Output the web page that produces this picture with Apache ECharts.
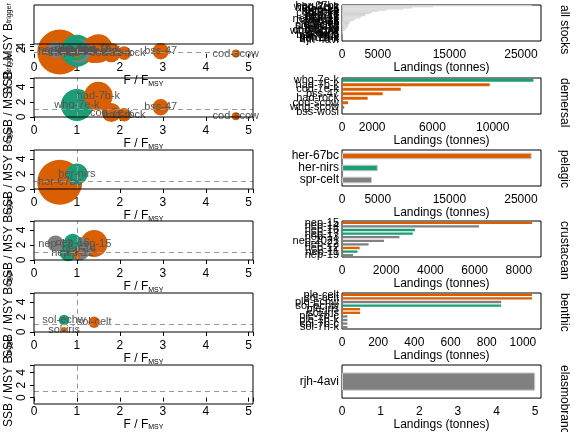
<!DOCTYPE html>
<html><head><meta charset="utf-8">
<script src="https://cdn.jsdelivr.net/npm/echarts@6/dist/echarts.min.js"></script>
<style>body{margin:0}#main{width:576px;height:432px}</style>
</head><body><div id="main"></div>
<script>
// stock data per guild: names, F/Fmsy, SSB/MSY Btrigger, landings (t), status colour
var guilds = ['demersal', 'pelagic', 'crustacean', 'benthic', 'elasmobranch'];

var demNames = ['whg-7e-k', 'had-7b-k', 'cod-7e-k', 'bss-47', 'had-rock', 'cod-scow', 'whg-scow', 'bss-wosi'];
var demF = [1.0, 1.5, 1.8, 2.95, 2.1, 4.7, null, null];
var demB = [1.6, 2.8, 0.6, 1.3, 0.3, 0.1, null, null];
var demL = [12700, 9800, 3900, 2700, 1700, 400, 150, 40];
var demC = ['g', 'o', 'o', 'o', 'o', 'o', 'x', 'x'];

var pelNames = ['her-67bc', 'her-nirs', 'spr-celt'];
var pelF = [0.6, 1.0, null];
var pelB = [0.9, 2.0, null];
var pelL = [26500, 5000, 4200];
var pelC = ['o', 'g', 'x'];

var cruNames = ['nep-15', 'nep-14', 'nep-16', 'nep-17', 'nep-13', 'nep-2021', 'nep-22', 'nep-12', 'nep-11', 'nep-19'];
var cruF = [1.4, 1.05, 0.9, 0.8, 0.5, null, null, 1.0, null, null];
var cruB = [2.2, 1.5, 2.3, 1.0, 2.2, null, null, 0.9, null, null];
var cruL = [8600, 6200, 3300, 3200, 2600, 1900, 1200, 800, 700, 500];
var cruC = ['o', 'x', 'g', 'g', 'x', 'x', 'x', 'o', 'g', 'x'];

var benNames = ['sol-celt', 'ple-celt', 'sol-echw', 'ple-echw', 'sol-iris', 'ple-iris', 'sol-7h-k', 'sol-7b-c', 'ple-7h-k', 'ple-7b-c'];
var benF = [1.4, null, 0.7, null, 0.7, null, null, null, null, null];
var benB = [1.3, null, 1.6, null, 0.3, null, null, null, null, null];
var benL = [1050, 1050, 880, 880, 100, 100, 30, 30, 30, 30];
var benC = ['o', 'o', 'g', 'x', 'o', 'o', 'x', 'x', 'x', 'x'];

var elaNames = ['rjh-4avi'];
var elaF = [null];
var elaB = [null];
var elaL = [5];
var elaC = ['x'];

var colours = { o: '#D95F02', g: '#1B9E77', x: '#808080' };
var barMax = [27800, 13200, 27800, 9000, 1100, 5.15];
var barStep = [5000, 2000, 5000, 2000, 200, 1];
var barShow = [[0, 5000, 15000, 25000], [0, 2000, 6000, 10000], [0, 5000, 15000, 25000], null, null, null];

var sets = [
  [demNames, demF, demB, demL, demC], [pelNames, pelF, pelB, pelL, pelC],
  [cruNames, cruF, cruB, cruL, cruC], [benNames, benF, benB, benL, benC],
  [elaNames, elaF, elaB, elaL, elaC]
];

// all stocks panel = everything together
var all = [[], [], [], [], []];
sets.forEach(function (s) { for (var k = 0; k < 5; k++) all[k] = all[k].concat(s[k]); });
var panels = [all].concat(sets);
var panelTitles = ['all stocks'].concat(guilds);

var tops = [5, 78, 150, 221, 293, 365];
var H = 39;
var grid = [], xAxis = [], yAxis = [], series = [], graphic = [];
var txt = { color: '#000', fontFamily: 'Liberation Sans', fontSize: 12 };

panels.forEach(function (p, i) {
  var names = p[0], F = p[1], B = p[2], L = p[3], C = p[4];
  // left scatter
  grid.push({ left: 34, width: 219, top: tops[i], height: H });
  xAxis.push({
    gridIndex: 2 * i, type: 'value', min: 0, max: 5.1, interval: 1,
    axisLine: { show: false }, axisTick: { length: 4, lineStyle: { color: '#000' } }, splitLine: { show: false },
    axisLabel: Object.assign({ formatter: function (v) { return v <= 5 ? v : ''; } }, txt),
    name: 'F / F{s|MSY}', nameLocation: 'middle', nameGap: 18,
    nameTextStyle: Object.assign({ rich: { s: { fontSize: 7, verticalAlign: 'bottom', padding: [6, 0, 0, 0] } } }, txt)
  });
  yAxis.push({
    gridIndex: 2 * i, type: 'value', min: 0, max: 5.2, interval: 2,
    axisLine: { show: false }, axisTick: { length: 4, lineStyle: { color: '#000' } }, splitLine: { show: false },
    axisLabel: Object.assign({ rotate: 90, margin: 6, hideOverlap: false, formatter: function (v) { return v <= 4 ? v : ''; } }, txt),
    name: 'SSB / MSY B{s|trigger}', nameLocation: 'middle', nameGap: 17, nameRotate: 90,
    nameTextStyle: Object.assign({ rich: { s: { fontSize: 7 } } }, txt)
  });
  var pts = [];
  names.forEach(function (n, k) {
    if (F[k] !== null) pts.push({ name: n, value: [F[k], B[k], L[k]], itemStyle: { color: colours[C[k]], opacity: 1 } });
  });
  pts.sort(function (a, b) { return b.value[2] - a.value[2]; });
  series.push({
    type: 'scatter', xAxisIndex: 2 * i, yAxisIndex: 2 * i, data: pts,
    symbolSize: function (v) { return 42 * Math.sqrt(v[2] / 26500) + 3; },
    label: { show: true, position: 'inside', formatter: '{b}', color: '#555', fontSize: 11, fontFamily: 'Liberation Sans' },
    markLine: {
      silent: true, symbol: 'none', label: { show: false },
      lineStyle: { color: '#999', type: [5, 4], width: 1 },
      data: [{ xAxis: 1 }, { yAxis: 1 }]
    }
  });
  // right bar
  grid.push({ left: 342, width: 199, top: tops[i], height: H - 3, borderColor: '#000', borderWidth: 1, show: true });
  var show = barShow[i];
  xAxis.push({
    gridIndex: 2 * i + 1, type: 'value', min: 0, max: barMax[i], interval: barStep[i],
    axisLine: { show: false }, axisTick: { length: 4, lineStyle: { color: '#000' } }, splitLine: { show: false },
    axisLabel: Object.assign({ formatter: function (v) { if (v > barMax[i] - 0.01) return ''; return (show && show.indexOf(v) < 0) ? '' : v; } }, txt),
    name: 'Landings (tonnes)', nameLocation: 'middle', nameGap: 20, nameTextStyle: txt
  });
  var order = names.map(function (n, k) { return k; });
  order.sort(function (a, b) { return L[a] - L[b]; });
  yAxis.push({
    gridIndex: 2 * i + 1, type: 'category', data: order.map(function (k) { return names[k]; }),
    axisLine: { show: false }, axisTick: { show: false },
    axisLabel: Object.assign({ interval: 0, margin: 3 }, txt, { fontSize: names.length > 3 ? 11 : 12 })
  });
  series.push({
    type: 'bar', xAxisIndex: 2 * i + 1, yAxisIndex: 2 * i + 1, barCategoryGap: i === 0 ? '0%' : (names.length > 3 ? '35%' : '45%'),
    data: order.map(function (k) {
      return { value: L[k], itemStyle: { color: i === 0 ? '#d3d3d3' : colours[C[k]], borderColor: '#ccc', borderWidth: (i === 0 || names.length > 3) ? 0 : 1 } };
    })
  });
  graphic.push({
    type: 'text', left: 558, top: tops[i], rotation: -Math.PI / 2,
    style: { text: panelTitles[i], font: '12px Liberation Sans', fill: '#000' }
  });
});

var chart = echarts.init(document.getElementById('main'));
// left scatter boxes
tops.forEach(function (t) {
  graphic.push({ type: 'rect', shape: { x: 34, y: t, width: 219, height: H }, style: { fill: 'none', stroke: '#000', lineWidth: 1 }, z: 100 });
});
chart.setOption({ animation: false, grid: grid, xAxis: xAxis, yAxis: yAxis, series: series, graphic: graphic });
</script></body></html>
